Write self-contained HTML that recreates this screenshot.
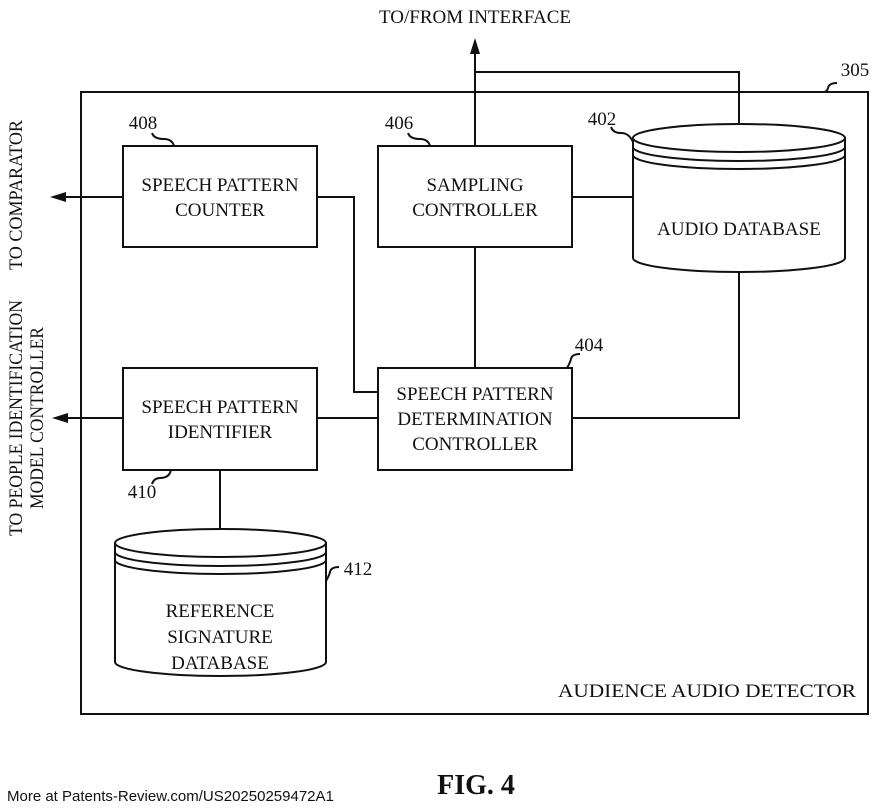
<!DOCTYPE html>
<html><head><style>
html,body{margin:0;padding:0;background:#fff;}
svg{display:block;}
text{font-family:"Liberation Serif",serif;fill:#111;}
</style></head><body>
<svg width="880" height="811" viewBox="0 0 880 811" xmlns="http://www.w3.org/2000/svg">
<g fill="none" stroke="#111" stroke-width="2">
<rect x="81" y="92" width="787" height="622"/>
<rect x="123" y="146" width="194" height="101"/>
<rect x="378" y="146" width="194" height="101"/>
<rect x="378" y="368" width="194" height="102"/>
<rect x="123" y="368" width="194" height="102"/>
<path d="M633,138 L633,258 A106,14 0 0 0 845,258 L845,138"/>
<ellipse cx="739" cy="138" rx="106" ry="14" fill="#fff"/>
<path d="M633,147 A106,14 0 0 0 845,147"/>
<path d="M633,155 A106,14 0 0 0 845,155"/>
<path d="M115,543 L115,662 A105.5,14 0 0 0 326,662 L326,543"/>
<ellipse cx="220.5" cy="543" rx="105.5" ry="14" fill="#fff"/>
<path d="M115,552 A105.5,14 0 0 0 326,552"/>
<path d="M115,560 A105.5,14 0 0 0 326,560"/>
<path d="M475,146 V48"/>
<path d="M475,72 H739 V124"/>
<path d="M317,197 H354 V392 H378"/>
<path d="M572,197 H633"/>
<path d="M475,247 V368"/>
<path d="M572,418 H739 V272"/>
<path d="M317,418 H378"/>
<path d="M123,418 H64"/>
<path d="M123,197 H62"/>
<path d="M220,470 V529"/>
<path d="M152,133 q2,6 12,6 q8,0 10,7"/>
<path d="M408,133 q2,6 12,6 q8,0 10,7"/>
<path d="M611,127 q2,6 10,6 q8,0 12,9" />
<path d="M837,83 q-8,0 -9,5 q-1,4 -4,4"/>
<path d="M580,354 q-8,0 -9,5 q-1,4 -4,9"/>
<path d="M152,484 q2,-6 8,-6 q10,0 11,-9"/>
<path d="M339,567 q-8,0 -9,5 q-1,4 -4,9"/>
</g>
<g fill="#111">
<polygon points="475,38 470,54 480,54"/>
<polygon points="50,197 66,192 66,202"/>
<polygon points="52,418 68,413 68,423"/>
</g>
<g font-size="19" text-anchor="middle">
<text x="475" y="23">TO/FROM INTERFACE</text>
<text x="220" y="191">SPEECH PATTERN</text>
<text x="220" y="216">COUNTER</text>
<text x="475" y="191">SAMPLING</text>
<text x="475" y="216">CONTROLLER</text>
<text x="739" y="235">AUDIO DATABASE</text>
<text x="475" y="400">SPEECH PATTERN</text>
<text x="475" y="425">DETERMINATION</text>
<text x="475" y="450">CONTROLLER</text>
<text x="220" y="413">SPEECH PATTERN</text>
<text x="220" y="438">IDENTIFIER</text>
<text x="220" y="617">REFERENCE</text>
<text x="220" y="643">SIGNATURE</text>
<text x="220" y="669">DATABASE</text>
<text x="707" y="697" textLength="298" lengthAdjust="spacingAndGlyphs">AUDIENCE AUDIO DETECTOR</text>
<text x="143" y="129">408</text>
<text x="399" y="129">406</text>
<text x="602" y="125">402</text>
<text x="855" y="76">305</text>
<text x="589" y="351">404</text>
<text x="142" y="498">410</text>
<text x="358" y="575">412</text>
<text transform="translate(22,195) rotate(-90)" textLength="150" lengthAdjust="spacingAndGlyphs">TO COMPARATOR</text>
<text transform="translate(22,418) rotate(-90)" textLength="236" lengthAdjust="spacingAndGlyphs">TO PEOPLE IDENTIFICATION</text>
<text transform="translate(43,418) rotate(-90)" textLength="182" lengthAdjust="spacingAndGlyphs">MODEL CONTROLLER</text>
</g>
<text x="476" y="794" font-size="28" font-weight="bold" text-anchor="middle">FIG. 4</text>
<text x="7" y="801" font-size="15" style="font-family:'Liberation Sans',sans-serif">More at Patents-Review.com/US20250259472A1</text>
</svg>
</body></html>
